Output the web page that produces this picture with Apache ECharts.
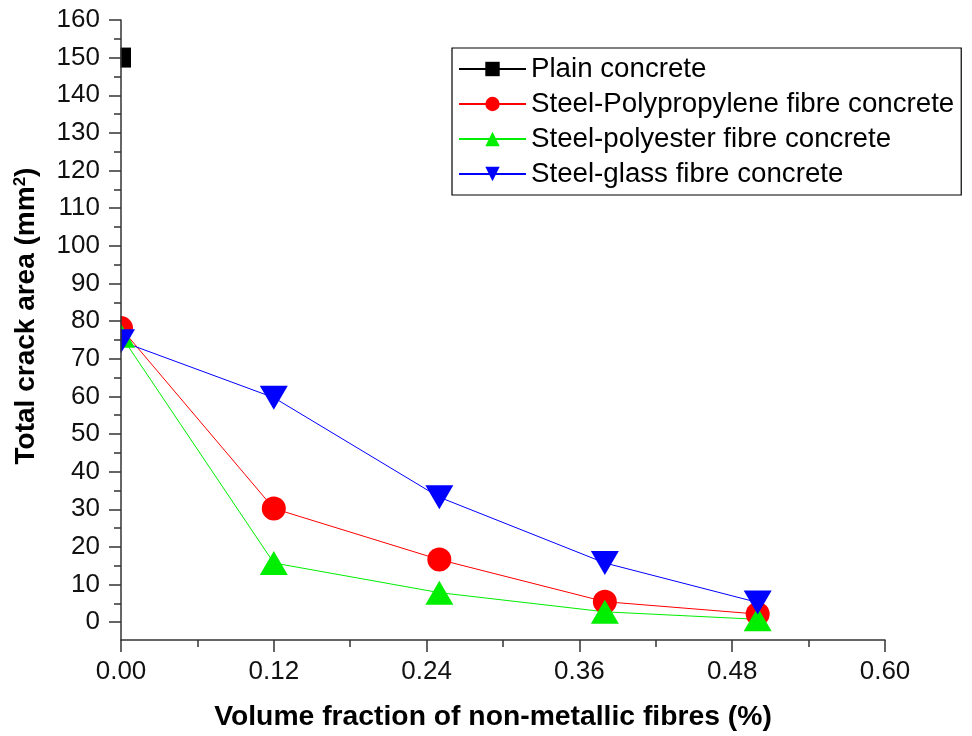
<!DOCTYPE html>
<html>
<head>
<meta charset="utf-8">
<script src="https://cdn.jsdelivr.net/npm/echarts@6/dist/echarts.min.js"></script>
<style>html,body{margin:0;padding:0;background:#fff;}#c{width:972px;height:736px;}</style>
</head>
<body>
<div id="c"></div>
<script>
// ---- data ----
const seriesNames = ['Plain concrete', 'Steel-Polypropylene fibre concrete', 'Steel-polyester fibre concrete', 'Steel-glass fibre concrete'];
const plainX = [0];
const plainY = [150];
const fibreX = [0, 0.12, 0.25, 0.38, 0.50];
const polypropyleneY = [78, 30, 16.4, 5.2, 1.9];
const polyesterY = [76, 15.5, 7.6, 2.5, 0.5];
const glassY = [74.5, 59.5, 33, 15.5, 5];
const xTicks = [0, 0.12, 0.24, 0.36, 0.48, 0.60];
const yTicks = [0, 10, 20, 30, 40, 50, 60, 70, 80, 90, 100, 110, 120, 130, 140, 150, 160];

const pairs = (xs, ys) => xs.map((x, i) => [x, ys[i]]);
const FONT = '"Liberation Sans", Arial, Helvetica, sans-serif';
const AX = '#333';

// layout
const G = {left: 121, right: 87, top: 20, bottom: 95};
const yMin = -5, yMax = 160;
const plotH = 736 - G.top - G.bottom;
const zeroBottom = G.bottom + plotH * (0 - yMin) / (yMax - yMin);

const chart = echarts.init(document.getElementById('c'), null, {renderer: 'canvas'});
chart.setOption({
  backgroundColor: '#fff',
  animation: false,
  textStyle: {fontFamily: FONT},
  grid: [
    {left: G.left, right: G.right, top: G.top, bottom: G.bottom},
    {left: G.left, right: G.right, top: G.top, bottom: zeroBottom}
  ],
  xAxis: [
    {
      gridIndex: 0, type: 'value', min: xTicks[0], max: xTicks[xTicks.length - 1], interval: 0.12,
      axisLine: {show: true, onZero: false, lineStyle: {color: AX, width: 1.5}},
      axisTick: {show: true, inside: false, length: 12, lineStyle: {color: AX, width: 1.5}},
      minorTick: {show: true, splitNumber: 2, length: 7, lineStyle: {color: AX, width: 1.5}},
      splitLine: {show: false},
      axisLabel: {fontSize: 26, color: '#111', fontFamily: FONT, margin: 19,
        formatter: v => v.toFixed(2)},
      name: 'Volume fraction of non-metallic fibres (%)',
      nameLocation: 'middle', nameGap: 63,
      nameTextStyle: {fontSize: 28.3, fontWeight: 'bold', color: '#000', fontFamily: FONT, padding: [0, 20, 0, 0]},
      z: 110
    },
    {gridIndex: 1, type: 'value', min: 0, max: 0.6, show: false}
  ],
  yAxis: [
    {
      gridIndex: 0, type: 'value', min: yMin, max: yMax,
      axisLine: {show: true, onZero: false, lineStyle: {color: AX, width: 1.5}},
      axisTick: {show: false}, axisLabel: {show: false}, splitLine: {show: false},
      name: '{t|Total crack area (mm}{s|2}{t|)}',
      nameLocation: 'middle', nameGap: 80, nameRotate: 90,
      nameTextStyle: {
        padding: [0, 0, 0, 28],
        rich: {
          t: {fontSize: 28, fontWeight: 'bold', color: '#000', fontFamily: FONT},
          s: {fontSize: 17, fontWeight: 'bold', color: '#000', fontFamily: FONT, verticalAlign: 'top', padding: [0, 0, 12, 0]}
        }
      },
      z: 110
    },
    {
      gridIndex: 1, type: 'value', min: yTicks[0], max: yTicks[yTicks.length - 1], interval: 10,
      axisLine: {show: false},
      axisTick: {show: true, inside: false, length: 12, lineStyle: {color: AX, width: 1.5}},
      minorTick: {show: true, splitNumber: 2, length: 7, lineStyle: {color: AX, width: 1.5}},
      splitLine: {show: false},
      axisLabel: {fontSize: 26, color: '#111', fontFamily: FONT, margin: 21},
      z: 110
    }
  ],
  legend: {
    orient: 'vertical', left: 452, top: 48,
    padding: [7, 7, 7, 6],
    borderColor: '#000', borderWidth: 1.2,
    itemWidth: 67, itemHeight: 18, itemGap: 7,
    align: 'left',
    textStyle: {fontSize: 27.7, color: '#000', fontFamily: FONT, lineHeight: 28},
    data: seriesNames
  },
  series: [
    {
      name: seriesNames[0], type: 'line', xAxisIndex: 0, yAxisIndex: 0,
      data: pairs(plainX, plainY),
      symbol: 'rect', symbolSize: 20,
      itemStyle: {color: '#000'}, lineStyle: {color: '#000', width: 1}
    },
    {
      name: seriesNames[1], type: 'line', xAxisIndex: 0, yAxisIndex: 0,
      data: pairs(fibreX, polypropyleneY),
      symbol: 'circle', symbolSize: 24,
      itemStyle: {color: '#ff0000'}, lineStyle: {color: '#ff0000', width: 1}
    },
    {
      name: seriesNames[2], type: 'line', xAxisIndex: 0, yAxisIndex: 0,
      data: pairs(fibreX, polyesterY),
      symbol: 'triangle', symbolSize: [28, 24],
      itemStyle: {color: '#00ee00'}, lineStyle: {color: '#00ee00', width: 1}
    },
    {
      name: seriesNames[3], type: 'line', xAxisIndex: 0, yAxisIndex: 0,
      data: pairs(fibreX, glassY),
      symbol: 'path://M0 0L10 0L5 9Z', symbolSize: [28, 24],
      itemStyle: {color: '#0000ff'}, lineStyle: {color: '#0000ff', width: 1}
    },
    {
      // white mask hiding the part of markers that falls left of the y axis (as in the reference)
      name: 'mask', type: 'custom', xAxisIndex: 0, yAxisIndex: 0,
      z: 50, silent: true, clip: false,
      data: [[xTicks[0], yMin]],
      renderItem: (params, api) => {
        const corner = api.coord([xTicks[0], yMin]);
        return {
          type: 'rect',
          shape: {x: 0, y: 0, width: corner[0] - 0.5, height: corner[1] - 4},
          style: {fill: '#fff'}
        };
      }
    }
  ]
});
</script>
</body>
</html>
